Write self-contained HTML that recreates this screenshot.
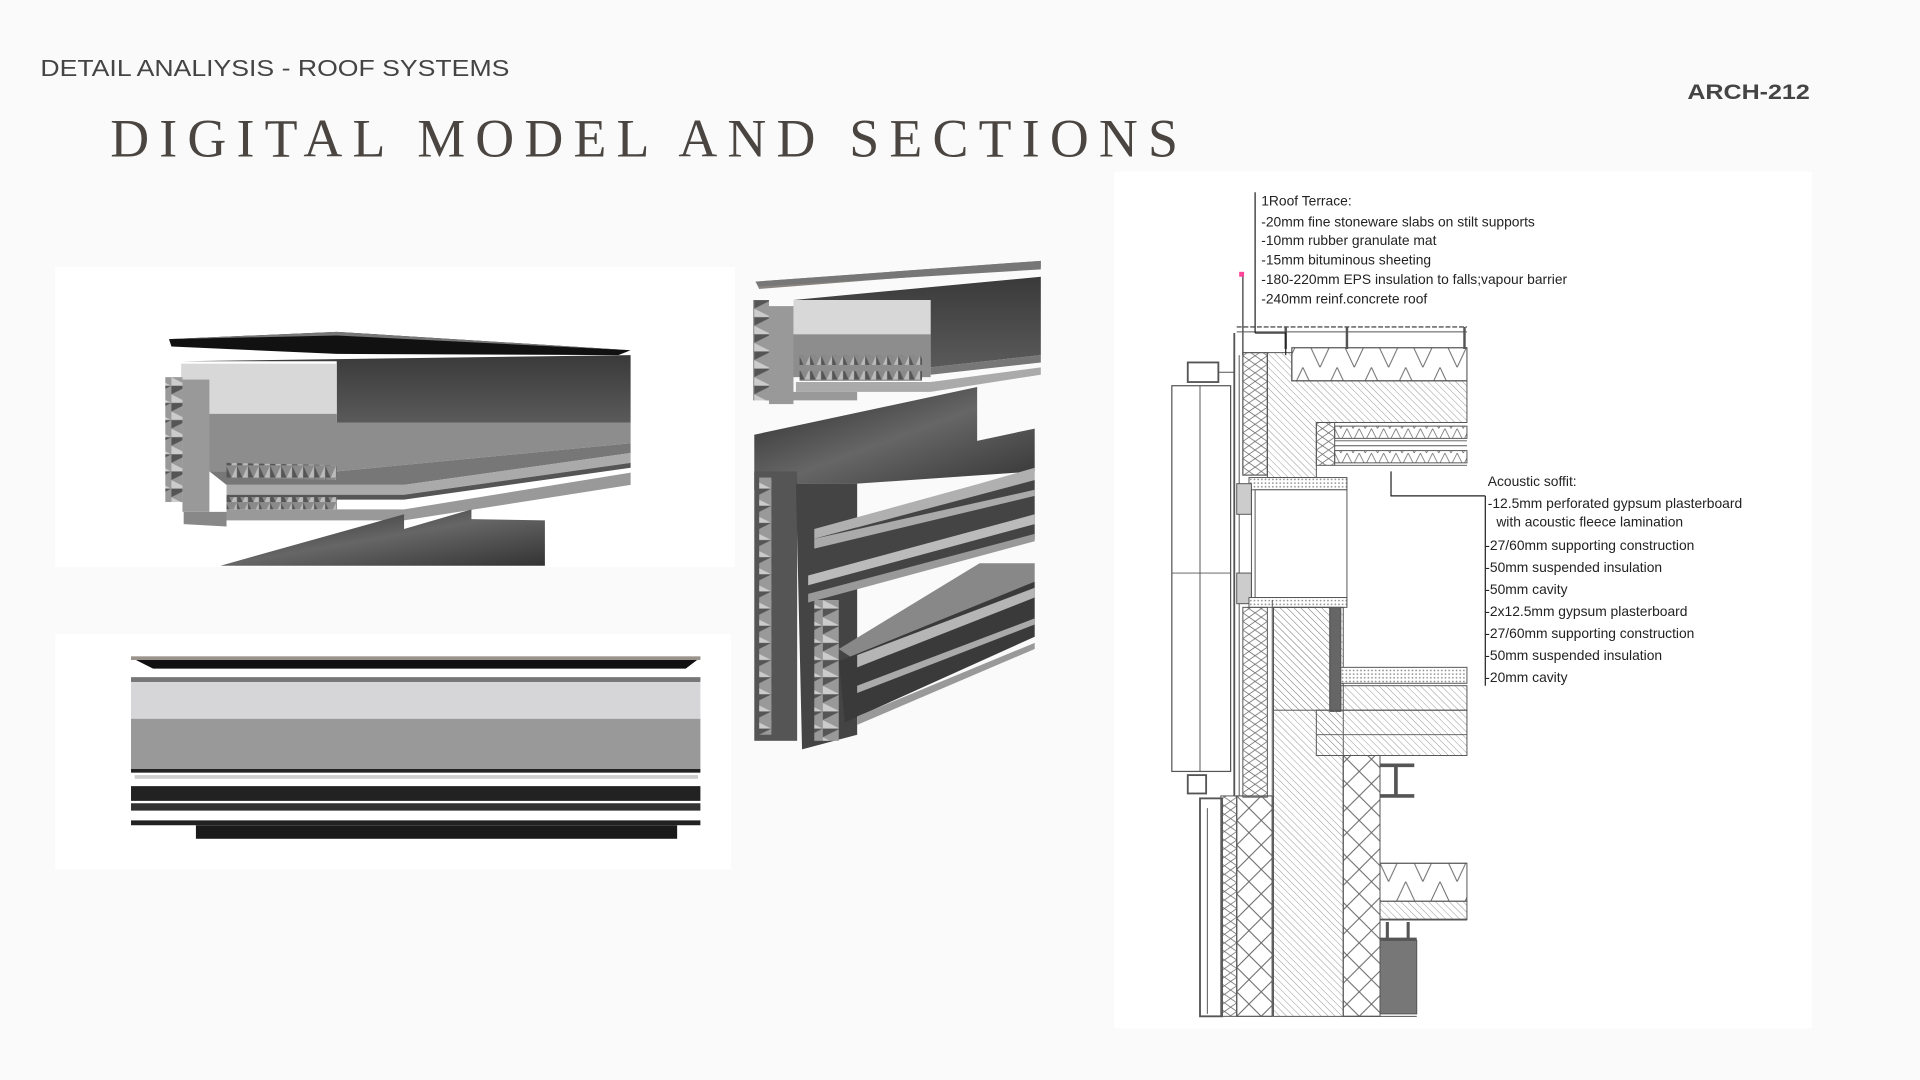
<!DOCTYPE html>
<html><head><meta charset="utf-8"><style>
html,body{margin:0;padding:0;background:#fafafa;width:1920px;height:1080px;overflow:hidden}
svg{display:block}
</style></head><body>
<svg width="1920" height="1080" viewBox="0 0 1568 882" xmlns="http://www.w3.org/2000/svg">
<defs>
<pattern id="hat" width="4" height="4" patternUnits="userSpaceOnUse" patternTransform="rotate(-45)"><line x1="0" y1="0" x2="0" y2="4" stroke="#888" stroke-width="0.7"/></pattern>
<pattern id="zz" width="20" height="40" patternUnits="userSpaceOnUse"><path d="M0 0 L20 20 L0 40 M20 0 L0 20 L20 40" fill="none" stroke="#666" stroke-width="0.8"/></pattern>
<pattern id="zzs" width="10" height="14" patternUnits="userSpaceOnUse"><path d="M0 0 L10 7 L0 14 M10 0 L0 7 L10 14" fill="none" stroke="#666" stroke-width="0.6"/></pattern>
<pattern id="zzh" width="28" height="30" patternUnits="userSpaceOnUse"><path d="M0 0 L14 30 L28 0" fill="none" stroke="#666" stroke-width="0.8"/></pattern>
<pattern id="zzh2" width="10" height="10" patternUnits="userSpaceOnUse"><path d="M0 0 L5 10 L10 0" fill="none" stroke="#666" stroke-width="0.6"/></pattern>
<pattern id="dots" width="3" height="3" patternUnits="userSpaceOnUse"><rect width="3" height="3" fill="#fff"/><circle cx="1.5" cy="1.5" r="0.7" fill="#888"/></pattern>
<pattern id="rib" width="9" height="10" patternUnits="userSpaceOnUse"><rect width="9" height="10" fill="#8a8a8a"/><path d="M0 10 L4.5 0 L9 10Z" fill="#555"/><path d="M0 10 L4.5 0 L4.5 10Z" fill="#bbb"/></pattern>
<pattern id="ribv" width="14" height="14" patternUnits="userSpaceOnUse"><rect width="14" height="14" fill="#999"/><path d="M0 0 L14 7 L0 14Z" fill="#555"/><path d="M0 0 L14 7 L0 7Z" fill="#ccc"/></pattern>
<linearGradient id="dk" x1="0" y1="0" x2="0" y2="1"><stop offset="0" stop-color="#3a3a3a"/><stop offset="1" stop-color="#5a5a5a"/></linearGradient>
<linearGradient id="dk2" x1="0" y1="0" x2="1" y2="1"><stop offset="0" stop-color="#2a2a2a"/><stop offset="0.5" stop-color="#666"/><stop offset="1" stop-color="#333"/></linearGradient>
</defs>

<text x="33" y="62" font-family="Liberation Sans, sans-serif" font-size="19" fill="#444" textLength="383" lengthAdjust="spacingAndGlyphs">DETAIL ANALIYSIS - ROOF SYSTEMS</text>
<text x="90" y="128" font-family="Liberation Serif, serif" font-size="44" fill="#4a4540" textLength="872" lengthAdjust="spacing">DIGITAL MODEL AND SECTIONS</text>
<text x="1378" y="81" font-family="Liberation Sans, sans-serif" font-size="17" font-weight="bold" fill="#444" textLength="100" lengthAdjust="spacingAndGlyphs">ARCH-212</text>

<rect x="45" y="218" width="555" height="245" fill="#fff"/>
<rect x="45" y="518" width="552" height="192" fill="#fff"/>
<rect x="910" y="140" width="570" height="700" fill="#fff"/>

<!-- image 1 -->
<polygon points="138,277 275,271 515,286 505,290 275,289 140,283" fill="#111"/>
<polygon points="138,277 275,271 515,286 275,274" fill="#777"/>
<polygon points="148,295 515,290 515,345 275,345 275,295" fill="url(#dk)"/>
<rect x="148" y="297" width="127" height="42" fill="#d8d8d8"/>
<polygon points="170,338 275,338 275,345 515,345 515,362 275,385 170,385" fill="#8d8d8d"/>
<rect x="135" y="308" width="14" height="102" fill="url(#ribv)"/>
<rect x="149" y="310" width="22" height="108" fill="#999"/>
<polygon points="171,385 275,385 515,362 515,370 330,396 185,396" fill="#777"/>
<polygon points="185,378 275,380 275,392 185,390" fill="url(#rib)"/>
<polygon points="185,396 330,396 515,370 515,378 330,404 185,404" fill="#aaa"/>
<polygon points="185,404 330,404 515,378 515,382 330,408 185,408" fill="#555"/>
<polygon points="185,406 275,406 275,416 185,416" fill="url(#rib)"/>
<polygon points="185,416 330,416 515,386 515,396 330,425 185,425" fill="#999"/>
<polygon points="150,418 185,418 185,430 150,428" fill="#888"/>
<polygon points="180,462 330,420 330,432 385,416 385,424 445,425 445,462" fill="url(#dk2)"/>

<!-- image 2 -->
<polygon points="107,537 572,537 560,546 125,546" fill="#111"/>
<rect x="107" y="536" width="465" height="3" fill="#9a938c"/>
<rect x="107" y="553" width="465" height="4" fill="#777"/>
<rect x="107" y="557" width="465" height="30" fill="#d6d6d8"/>
<rect x="107" y="587" width="465" height="41" fill="#999"/>
<rect x="107" y="628" width="465" height="3" fill="#222"/>
<rect x="110" y="633" width="460" height="3" fill="#ccc"/>
<polygon points="107,642 572,642 572,654 107,654" fill="#222"/>
<polygon points="107,656 572,656 572,662 107,662" fill="#333"/>
<polygon points="107,670 572,670 572,674 107,674" fill="#222"/>
<rect x="160" y="674" width="393" height="11" fill="#1a1a1a"/>

<!-- middle top -->
<polygon points="617,230 850,213 850,218 620,236" fill="#8a8580"/>
<polygon points="617,230 850,213 850,220 620,234" fill="#777"/>
<polygon points="648,245 850,226 850,290 760,300 760,245" fill="url(#dk)"/>
<rect x="648" y="245" width="112" height="28" fill="#d8d8d8"/>
<rect x="640" y="273" width="120" height="35" fill="#8d8d8d"/>
<polygon points="760,300 850,290 850,296 760,306" fill="#777"/>
<rect x="615" y="245" width="13" height="82" fill="url(#ribv)"/>
<rect x="628" y="250" width="20" height="80" fill="#999"/>
<rect x="653" y="290" width="100" height="8" fill="url(#rib)"/>
<rect x="653" y="303" width="100" height="8" fill="url(#rib)"/>
<polygon points="650,312 760,312 850,300 850,306 760,320 650,320" fill="#aaa"/>
<polygon points="625,320 700,320 700,327 625,327" fill="#999"/>

<!-- middle lower -->
<polygon points="616,355 798,316 798,360 845,350 845,385 700,395 650,395 616,400" fill="url(#dk2)"/>
<rect x="616" y="385" width="35" height="220" fill="#555"/>
<rect x="620" y="390" width="10" height="210" fill="url(#ribv)"/>
<polygon points="650,395 700,395 700,600 655,612" fill="#444"/>
<polygon points="665,432 800,395 845,382 845,392 665,440" fill="#b0b0b0"/>
<polygon points="665,440 845,392 845,440 665,490" fill="#444"/>
<polygon points="665,440 845,400 845,405 665,448" fill="#aaa"/>
<polygon points="660,470 845,420 845,428 660,478" fill="#bbb"/>
<polygon points="660,485 845,436 845,442 660,492" fill="#999"/>
<rect x="665" y="490" width="20" height="115" fill="url(#ribv)"/>
<polygon points="685,530 800,460 845,460 845,475 700,540" fill="#888"/>
<polygon points="685,540 845,475 845,520 690,590" fill="#3a3a3a"/>
<polygon points="700,535 845,480 845,488 700,545" fill="#b5b5b5"/>
<polygon points="700,560 845,505 845,510 700,566" fill="#aaa"/>
<polygon points="700,585 845,525 845,530 700,592" fill="#999"/>

<!-- section drawing -->
<g stroke="#555" stroke-width="0.8" fill="none">
<line x1="1015" y1="224" x2="1015" y2="290" stroke-width="1.2"/>
<rect x="1012" y="222" width="4" height="4" fill="#f49" stroke="none"/>
<line x1="1010" y1="267" x2="1198" y2="267" stroke-width="1.2" stroke-dasharray="4 1.5"/>
<line x1="1010" y1="271" x2="1198" y2="271"/>
<line x1="1050" y1="267" x2="1050" y2="285" stroke-width="2"/>
<line x1="1100" y1="267" x2="1100" y2="285" stroke-width="2"/>
<line x1="1196" y1="267" x2="1196" y2="285" stroke-width="2"/>
<rect x="1055" y="284" width="143" height="27" fill="url(#zzh)"/>
<rect x="1055" y="284" width="143" height="27"/>
<path d="M1035 288 L1055 288 L1055 311 L1198 311 L1198 345 L1075 345 L1075 390 L1035 390Z" fill="url(#hat)"/>
<rect x="1075" y="345" width="15" height="35" fill="url(#zzs)"/>
<rect x="1090" y="348" width="108" height="10" fill="url(#zzh2)"/>
<rect x="1090" y="368" width="108" height="10" fill="url(#zzh2)"/>
<line x1="1090" y1="360" x2="1198" y2="360"/><line x1="1090" y1="364" x2="1198" y2="364"/>
<line x1="1090" y1="380" x2="1198" y2="380"/>
<rect x="1015" y="288" width="20" height="100" fill="url(#zzs)"/>
<rect x="1015" y="288" width="20" height="100"/>
<line x1="1008" y1="272" x2="1008" y2="650" stroke-width="1.5"/>
<line x1="1012" y1="290" x2="1012" y2="650"/>
<rect x="970" y="296" width="25" height="16" stroke-width="1.5"/>
<line x1="995" y1="304" x2="1008" y2="304"/>
<rect x="957" y="315" width="48" height="315" stroke-width="1"/>
<line x1="957" y1="468" x2="1005" y2="468"/>
<line x1="980" y1="315" x2="980" y2="630"/>
<rect x="970" y="633" width="15" height="15" stroke-width="1.5"/>
<rect x="1020" y="390" width="80" height="10" fill="url(#dots)"/>
<rect x="1025" y="400" width="75" height="88" fill="#fff"/>
<rect x="1010" y="395" width="12" height="25" fill="#ccc"/>
<rect x="1010" y="468" width="12" height="25" fill="#ccc"/>
<line x1="1022" y1="400" x2="1022" y2="490"/>
<rect x="1020" y="488" width="80" height="8" fill="url(#dots)"/>
<rect x="1015" y="496" width="20" height="155" fill="url(#zzs)"/>
<path d="M1040 496 L1097 496 L1097 830 L1040 830Z" fill="url(#hat)"/>
<rect x="1086" y="496" width="9" height="85" fill="#666"/>
<rect x="1040" y="496" width="46" height="84" fill="url(#hat)"/>
<rect x="1010" y="650" width="29" height="180" fill="url(#zz)"/>
<rect x="1010" y="650" width="29" height="180"/>
<rect x="997" y="650" width="13" height="180" fill="url(#zzs)"/>
<rect x="980" y="652" width="18" height="178" stroke-width="1.5"/>
<line x1="986" y1="660" x2="986" y2="828"/>
<line x1="1039" y1="490" x2="1039" y2="830"/>
<rect x="1095" y="545" width="103" height="13" fill="url(#dots)"/>
<rect x="1095" y="560" width="103" height="20" fill="url(#hat)"/>
<rect x="1075" y="580" width="123" height="37" fill="url(#hat)"/>
<line x1="1075" y1="600" x2="1198" y2="600"/>
<rect x="1097" y="617" width="30" height="213" fill="#fff"/>
<rect x="1097" y="617" width="30" height="213" fill="url(#zz)"/>
<line x1="1127" y1="617" x2="1127" y2="830"/>
<line x1="1097" y1="830" x2="1157" y2="830"/>
<path d="M1127 625 H1155 M1127 650 H1155 M1140 625 V650" stroke-width="3"/>
<line x1="1127" y1="705" x2="1198" y2="705"/>
<rect x="1127" y="705" width="71" height="31" fill="url(#zzh)"/>
<rect x="1127" y="736" width="71" height="15" fill="url(#hat)"/>
<line x1="1127" y1="751" x2="1198" y2="751" stroke-width="1.5"/>
<path d="M1133 753 V767 M1150 753 V767 M1127 767 H1157" stroke-width="2.5"/>
<rect x="1127" y="768" width="30" height="60" fill="#777" stroke="#555"/>
<path d="M1025 157 V272 M1025 272 H1050 V290" stroke="#222" stroke-width="1"/>
<path d="M1136 385 V405 H1213 M1213 405 V560" stroke="#222" stroke-width="1"/>
</g>

<g font-family="Liberation Sans, sans-serif" font-size="11.3" fill="#222">
<text x="1030" y="168">1Roof Terrace:</text>
<text x="1030" y="185">-20mm fine stoneware slabs on stilt supports</text>
<text x="1030" y="200">-10mm rubber granulate mat</text>
<text x="1030" y="216">-15mm bituminous sheeting</text>
<text x="1030" y="232">-180-220mm EPS insulation to falls;vapour barrier</text>
<text x="1030" y="248">-240mm reinf.concrete roof</text>
<text x="1215" y="397">Acoustic soffit:</text>
<text x="1215" y="415">-12.5mm perforated gypsum plasterboard</text>
<text x="1222" y="430">with acoustic fleece lamination</text>
<text x="1213" y="449">-27/60mm supporting construction</text>
<text x="1213" y="467">-50mm suspended insulation</text>
<text x="1213" y="485">-50mm cavity</text>
<text x="1213" y="503">-2x12.5mm gypsum plasterboard</text>
<text x="1213" y="521">-27/60mm supporting construction</text>
<text x="1213" y="539">-50mm suspended insulation</text>
<text x="1213" y="557">-20mm cavity</text>
</g>
</svg>
</body></html>
